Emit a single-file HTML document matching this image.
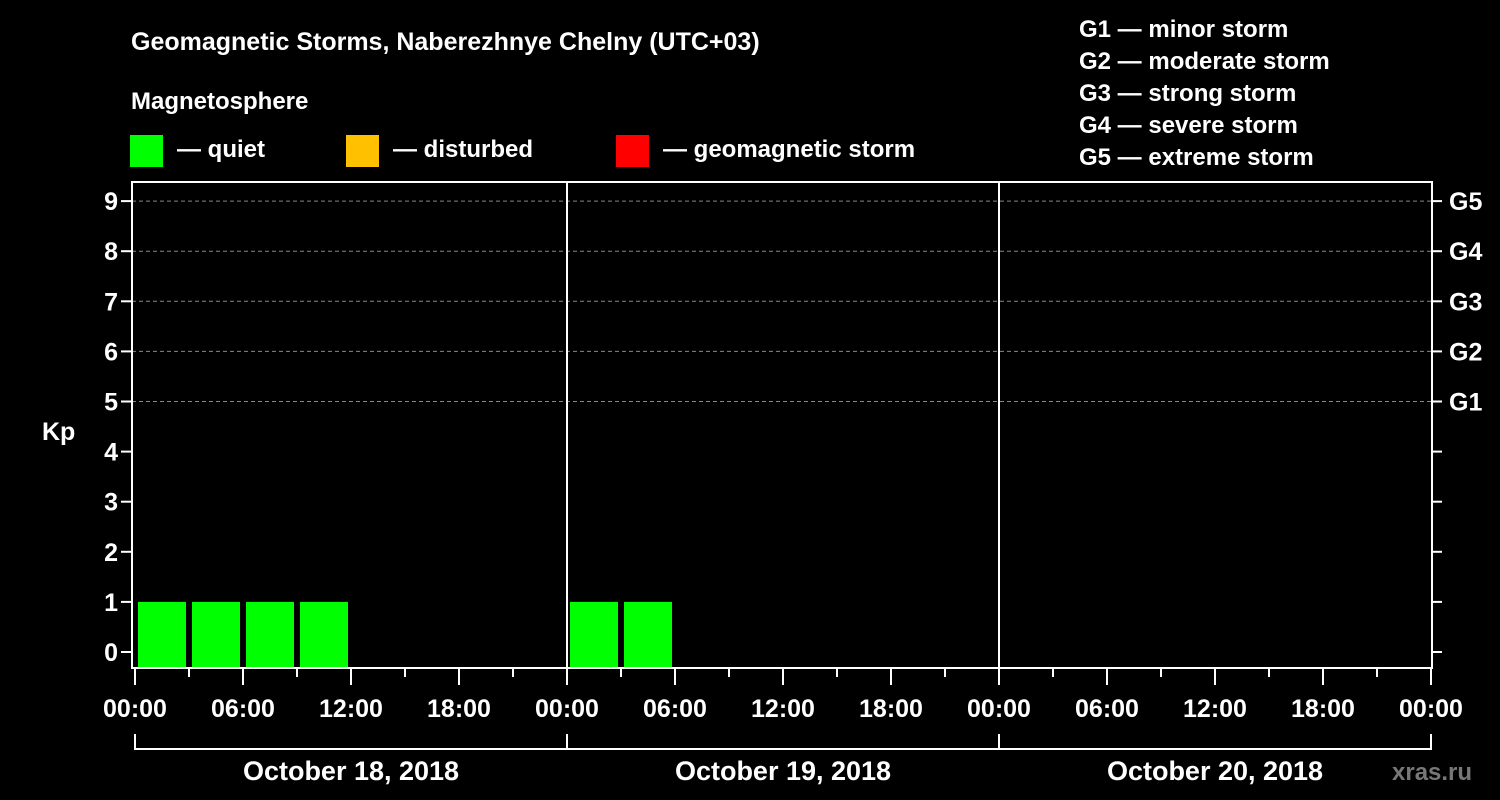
<!DOCTYPE html>
<html><head><meta charset="utf-8"><style>
html,body{margin:0;padding:0;background:#000;}
svg{display:block;font-family:"Liberation Sans",Arial,sans-serif;font-weight:bold;}
</style></head><body>
<svg id="chart" width="1500" height="800" viewBox="0 0 1500 800">
<text x="131" y="50" fill="#fff" font-size="25">Geomagnetic Storms, Naberezhnye Chelny (UTC+03)</text>
<text x="131" y="109" fill="#fff" font-size="24">Magnetosphere</text>
<g><rect x="130" y="135" width="33" height="32" fill="#00ff00"/><text x="177" y="157" fill="#fff" font-size="24">— quiet</text></g>
<g><rect x="346" y="135" width="33" height="32" fill="#ffc000"/><text x="393" y="157" fill="#fff" font-size="24">— disturbed</text></g>
<g><rect x="616" y="135" width="33" height="32" fill="#ff0000"/><text x="663" y="157" fill="#fff" font-size="24">— geomagnetic storm</text></g>
<g fill="#fff" font-size="24">
<text x="1079" y="37">G1 — minor storm</text>
<text x="1079" y="69">G2 — moderate storm</text>
<text x="1079" y="101">G3 — strong storm</text>
<text x="1079" y="133">G4 — severe storm</text>
<text x="1079" y="165">G5 — extreme storm</text>
</g>
<text x="42" y="440" fill="#fff" font-size="25">Kp</text>
<text x="1392" y="780" fill="#777" font-size="24">xras.ru</text>
<g id="plot"></g>
</svg>
<script>
const days = ["October 18, 2018","October 19, 2018","October 20, 2018"];
const hourLabels = ["00:00","06:00","12:00","18:00"];
const kpTicks = [0,1,2,3,4,5,6,7,8,9];
const gLabels = ["G1","G2","G3","G4","G5"];
const kpValues = [1,1,1,1,null,null,null,null, 1,1,null,null,null,null,null,null, null,null,null,null,null,null,null,null];
const NS="http://www.w3.org/2000/svg";
const g=document.getElementById('plot');
const L=132,R=1432,T=182,B=668,X0=135,DAY=432;
const x=h=>X0+h/24*DAY;
const y=v=>652-v*50.1;
function mk(t,a){const e=document.createElementNS(NS,t);for(const k in a)e.setAttribute(k,a[k]);g.appendChild(e);return e;}
kpTicks.forEach(v=>{
 if(v>=5){const l=mk('line',{x1:L,x2:R,y1:y(v),y2:y(v),stroke:'#888','stroke-dasharray':'4,3','stroke-width':1});
 
 }
 mk('line',{x1:L-11,x2:L,y1:y(v),y2:y(v),stroke:'#fff','stroke-width':2});
 mk('line',{x1:R,x2:R+10,y1:y(v),y2:y(v),stroke:'#fff','stroke-width':2});
 const t=mk('text',{x:L-14,y:y(v)+9,fill:'#fff','font-size':25,'text-anchor':'end'});t.textContent=v;
 
 
});
gLabels.forEach((s,i)=>{const t=mk('text',{x:1449,y:y(5+i)+9,fill:'#fff','font-size':25});t.textContent=s;
 
 });
kpValues.forEach((v,i)=>{if(v==null)return;
 const r=mk('rect',{x:x(i*3)+3,y:y(v),width:48,height:B-y(v),fill:v<4?'#00ff00':(v<5?'#ffc000':'#ff0000')});
 
 });
for(let d=1;d<3;d++)mk('line',{x1:x(d*24),x2:x(d*24),y1:T,y2:B,stroke:'#fff','stroke-width':2});
const fr=mk('rect',{x:L,y:T,width:R-L,height:B-T,fill:'none',stroke:'#fff','stroke-width':2});


for(let h=0;h<=72;h+=3){const maj=h%6==0;mk('line',{x1:x(h),x2:x(h),y1:B,y2:B+(maj?17:9),stroke:'#fff','stroke-width':2});
 if(maj){const t=mk('text',{x:x(h),y:B+49,fill:'#fff','font-size':25,'text-anchor':'middle'});t.textContent=hourLabels[(h/6)%4];
 
 }}
days.forEach((s,i)=>{
 mk('path',{d:`M${x(i*24)} 734V749H${x(i*24+24)}V734`,fill:'none',stroke:'#fff','stroke-width':2});
 const t=mk('text',{x:x(i*24+12),y:780,fill:'#fff','font-size':27,'text-anchor':'middle'});t.textContent=s;
 
 
});
</script>
</body></html>
